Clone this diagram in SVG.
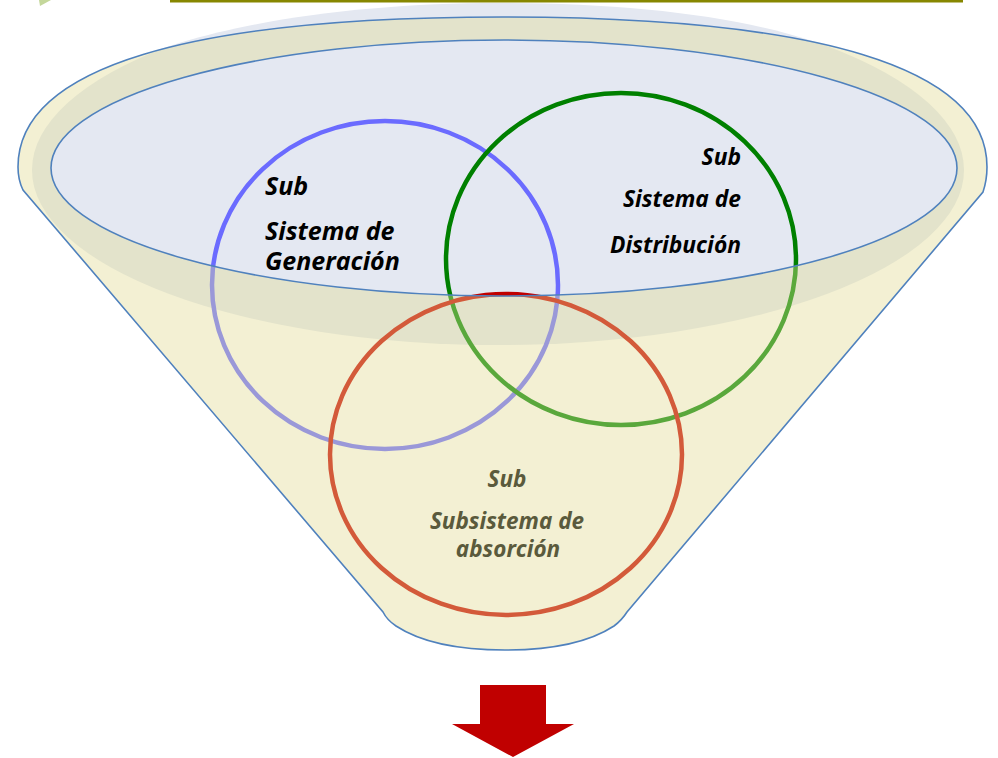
<svg xmlns="http://www.w3.org/2000/svg" width="998" height="758" viewBox="0 0 998 758">
<style>
.rim{stroke:#4f81bd;stroke-width:1.6;fill:none}
.ring{fill:none;stroke-width:4.5}
.t{font-family:"Open Sans","Noto Sans",Lato,"Liberation Sans",sans-serif;font-weight:bold;font-style:italic}
.big{font-size:25px;fill:#000}
.mid{font-size:22.8px;fill:#000}
.abs{font-size:22.5px;fill:#5a5a3c}
</style>
<defs>
<path id="funnelShape" d="M23,190 C19,182 18,175 18,167 C18,67 190,17 503,17 C816,17 987,67 987,167 C987,175 986,183 983,192 L627,612 Q622,620 614,626 C585,645 545,650 505,650 C465,650 425,645 396,626 Q387,620 383,612 Z"/>
<clipPath id="clipFunnel"><use href="#funnelShape"/></clipPath>
<clipPath id="clipIn"><ellipse cx="504" cy="168" rx="453" ry="128"/></clipPath>
<clipPath id="clipOut"><path clip-rule="evenodd" d="M0,0 H998 V758 H0 Z M51,168 A453,128 0 1 0 957,168 A453,128 0 1 0 51,168 Z"/></clipPath>
</defs>
<rect width="998" height="758" fill="#fff"/>
<g id="funnel">
<path d="M35,130 C90,45 290,3 500,3 C700,3 860,35 912,100 L912,200 L35,200 Z" fill="#e4e8f1"/>
<use href="#funnelShape" fill="#f3f0d3"/>
<ellipse cx="498" cy="170" rx="466" ry="175" fill="#e3e3cb" clip-path="url(#clipFunnel)"/>
<ellipse cx="504" cy="168" rx="453" ry="128" fill="#e4e8f2"/>
<use href="#funnelShape" class="rim"/>
</g>
<g id="node-generacion">
<ellipse cx="385" cy="285" rx="173" ry="164" class="ring" stroke="#6b6bff" clip-path="url(#clipIn)"/>
<ellipse cx="385" cy="285" rx="173" ry="164" class="ring" stroke="#9a98d8" clip-path="url(#clipOut)"/>
</g>
<g id="node-distribucion">
<ellipse cx="621" cy="259" rx="175" ry="166" class="ring" stroke="#008000" clip-path="url(#clipIn)"/>
<ellipse cx="621" cy="259" rx="175" ry="166" class="ring" stroke="#5aa83c" clip-path="url(#clipOut)"/>
</g>
<g id="node-absorcion">
<ellipse cx="506" cy="454.5" rx="176" ry="160.5" class="ring" stroke="#c00000" clip-path="url(#clipIn)"/>
<ellipse cx="506" cy="454.5" rx="176" ry="160.5" class="ring" stroke="#d35a3a" clip-path="url(#clipOut)"/>
</g>
<ellipse cx="504" cy="168" rx="453" ry="128" class="rim"/>
<g id="labels">
<g id="label-generacion" class="t big">
<text x="265" y="195">Sub</text>
<text x="265" y="240">Sistema de</text>
<text x="265" y="270">Generación</text>
</g>
<g id="label-distribucion" class="t mid" text-anchor="end">
<text x="741" y="165">Sub</text>
<text x="741" y="207">Sistema de</text>
<text x="741" y="253">Distribución</text>
</g>
<g id="label-absorcion" class="t abs" text-anchor="middle">
<text x="507" y="487">Sub</text>
<text x="507" y="529">Subsistema de</text>
<text x="508" y="557">absorción</text>
</g>
</g>
<g id="connectors">
<polygon id="arrow-down" points="480,685 546,685 546,724 574,724 513,757 452,724 480,724" fill="#c00000"/>
</g>
<rect x="170" y="0" width="793" height="2.5" fill="#878700"/>
<polygon points="39,0 51,0 40,6" fill="#c4d79b"/>
</svg>
